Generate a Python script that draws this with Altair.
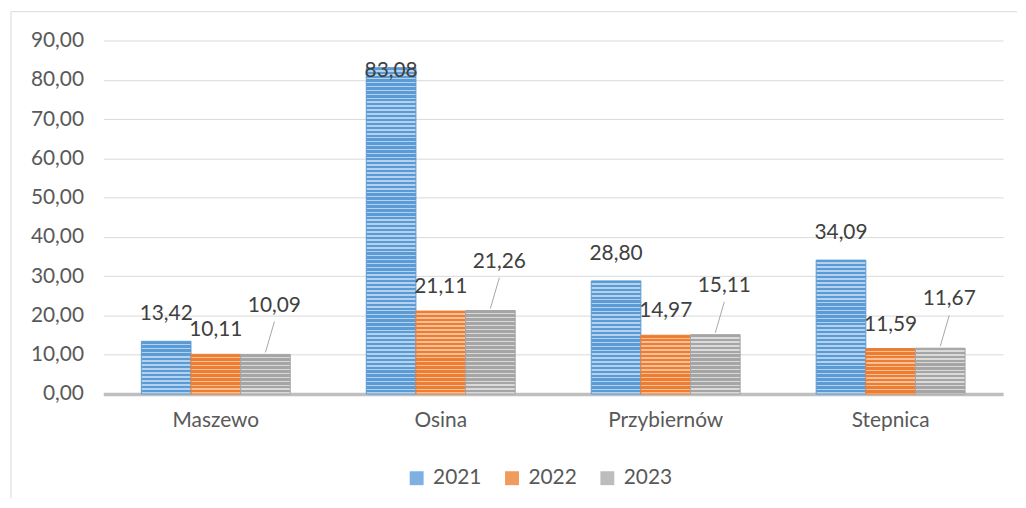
import altair as alt
import pandas as pd

cats = ["Maszewo", "Osina", "Przybiernów", "Stepnica"]
years = ["2021", "2022", "2023"]
v2021 = [13.42, 83.08, 28.80, 34.09]
v2022 = [10.11, 21.11, 14.97, 11.59]
v2023 = [10.09, 21.26, 15.11, 11.67]

rows = []
for yr, vals in zip(years, [v2021, v2022, v2023]):
    for c, v in zip(cats, vals):
        rows.append({"cat": c, "year": yr, "value": v})
df = pd.DataFrame(rows)

dark = {"2021": "#5B9BD5", "2022": "#ED7D31", "2023": "#A5A5A5"}
light = {"2021": "#B4D2EE", "2022": "#F7C09A", "2023": "#DADADA"}
legend_cols = ["#7EB1E1", "#F09A5E", "#BDBDBD"]


def stripes(v, d, l):
    n = max(1, round(v))
    stops = []
    for i in range(n):
        a = i / n
        m = (i + 0.6) / n
        b = (i + 1) / n
        stops += [
            {"offset": round(a, 5), "color": d},
            {"offset": round(m, 5), "color": d},
            {"offset": round(m, 5), "color": l},
            {"offset": round(b, 5), "color": l},
        ]
    return {"gradient": "linear", "x1": 0, "y1": 0, "x2": 0, "y2": 1, "stops": stops}


conds = [
    {
        "test": f"datum.cat === '{r['cat']}' && datum.year === '{r['year']}'",
        "value": stripes(r["value"], dark[r["year"]], light[r["year"]]),
    }
    for r in rows
]

FONT = "Lato"
yscale = alt.Scale(domain=[0, 90], nice=False)
yaxis = alt.Axis(values=list(range(0, 91, 10)), format=".2f")
X = alt.X(
    "cat:N",
    sort=cats,
    title=None,
    scale=alt.Scale(paddingInner=0.338, paddingOuter=0.169),
    axis=alt.Axis(labelAngle=0),
)
XO = alt.XOffset("year:N", sort=years, scale=alt.Scale(paddingInner=0, paddingOuter=0))
Y = alt.Y("value:Q", title=None, scale=yscale, axis=yaxis)

base = alt.Chart(df)

bars = base.mark_bar(strokeWidth=1).encode(
    x=X,
    xOffset=XO,
    y=Y,
    color=alt.Color(
        "year:N",
        sort=years,
        scale=alt.Scale(domain=years, range=legend_cols),
        legend=alt.Legend(
            title=None,
            orient="none",
            legendX=305,
            legendY=430,
            direction="horizontal",
            symbolType="square",
            symbolSize=196,
            symbolStrokeWidth=0,
            labelFontSize=21,
            labelFont=FONT,
            labelColor="#595959",
            columnPadding=20,
            labelOffset=6,
            padding=0,
        ),
        condition=conds,
    ),
    stroke=alt.Stroke(
        "year:N", scale=alt.Scale(domain=years, range=[dark[y] for y in years]), legend=None
    ),
)

# leader lines from the 2023 bars to their moved labels
# (x2 is placed at the category centre, so its offset includes the 2023 bar's shift)
leader = base.transform_filter("datum.year === '2023'").mark_rule(
    color="#A6A6A6", strokeWidth=1, x2Offset=59, yOffset=-2, y2Offset=-33
).encode(
    x=X,
    xOffset=XO,
    x2=alt.X2("cat:N"),
    y=Y,
    y2=alt.Y2("value:Q"),
)

txt = dict(fontSize=21, font=FONT, color="#404040")
lab21 = base.transform_filter("datum.year === '2021'").transform_calculate(
    ly="min(datum.value, 75.5)"
).mark_text(dy=-27, **txt).encode(
    x=X, xOffset=XO,
    y=alt.Y("ly:Q", title=None, scale=yscale, axis=yaxis),
    text=alt.Text("value:Q", format=".2f"),
)
lab22 = base.transform_filter("datum.year === '2022'").mark_text(dy=-24, **txt).encode(
    x=X, xOffset=XO, y=Y, text=alt.Text("value:Q", format=".2f")
)
lab23 = base.transform_filter("datum.year === '2023'").mark_text(dx=9, dy=-49, **txt).encode(
    x=X, xOffset=XO, y=Y, text=alt.Text("value:Q", format=".2f")
)

frame_data = alt.Data(values=[{"k": 1}])
frame_left = alt.Chart(frame_data).mark_rule(color="#D9D9D9", strokeWidth=1).encode(
    x=alt.value(-93), y=alt.value(-29), y2=alt.value(461)
)
frame_top = alt.Chart(frame_data).mark_rule(color="#D9D9D9", strokeWidth=1).encode(
    x=alt.value(-93), x2=alt.value(920), y=alt.value(-29)
)

chart = (
    alt.layer(frame_left, frame_top, bars, leader, lab21, lab22, lab23)
    .properties(width=906, height=356, padding={"left": 2, "top": 1, "right": 0, "bottom": 0})
    .configure(
        locale={"number": {"decimal": ",", "thousands": " ", "grouping": [3], "currency": ["", " zł"]}}
    )
    .configure_view(stroke=None)
    .configure_axisY(
        domain=False,
        ticks=False,
        grid=True,
        gridColor="#D9D9D9",
        gridWidth=1,
        labelFont=FONT,
        labelFontSize=21,
        labelColor="#595959",
        labelPadding=20,
    )
    .configure_axisX(
        ticks=False,
        grid=False,
        domainColor="#BFBFBF",
        domainWidth=3.5,
        labelFont=FONT,
        labelFontSize=21,
        labelColor="#595959",
        labelPadding=16,
    )
)

chart.save("out.html", embed_options={"renderer": "svg", "actions": False})
